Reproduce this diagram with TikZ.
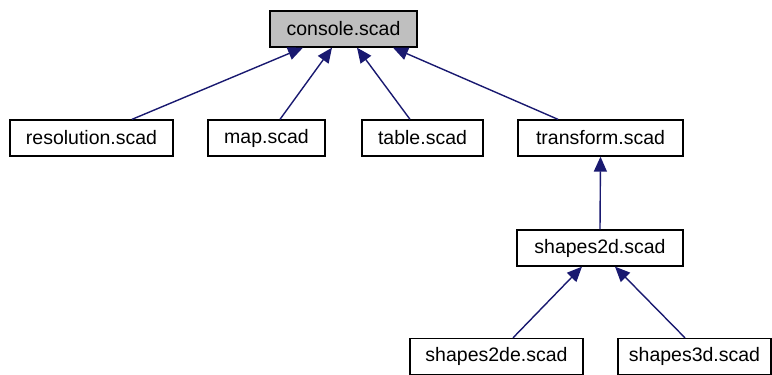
\documentclass[tikz,border=0pt]{standalone}
\usepackage{fontspec}
\setmainfont{Liberation Sans}
\usetikzlibrary{arrows.meta}
\definecolor{edgeblue}{HTML}{191970}
\tikzset{
    file/.style={draw=black, line width=1.3pt, fill=white, minimum height=36pt,
                 inner sep=0pt, font=\fontsize{19.5}{22}\selectfont},
    edge/.style={draw=edgeblue, line width=1.4pt, -{Triangle[length=15pt,width=13pt]}},
}

\begin{document}
\begin{tikzpicture}[x=1pt, y=-1pt]
    \useasboundingbox (0,0) rectangle (772,375);

    % Files
    \node[file, fill=gray!50, minimum width=147pt] (console) at (343.5,29) {console.scad};
    \node[file, minimum width=163pt] (resolution) at (91.5,138) {resolution.scad};
    \node[file, minimum width=117pt] (map) at (266.5,138) {map.scad};
    \node[file, minimum width=121pt] (table) at (422.5,138) {table.scad};
    \node[file, minimum width=165pt] (transform) at (600.5,138) {transform.scad};
    \node[file, minimum width=166pt] (shapes2d) at (600,248) {shapes2d.scad};
    \node[file, minimum width=173pt] (shapes2de) at (496.5,356.5) {shapes2de.scad};
    \node[file, minimum width=153pt] (shapes3d) at (694.5,356.5) {shapes3d.scad};

    % Include edges
    \draw[edge] ([xshift=40.5pt]resolution.north) -- ([xshift=-40.5pt]console.south);
    \draw[edge] ([xshift=13.5pt]map.north) -- ([xshift=-11.5pt]console.south);
    \draw[edge] ([xshift=-12.5pt]table.north) -- ([xshift=13.5pt]console.south);
    \draw[edge] ([xshift=-42.5pt]transform.north) -- ([xshift=49.5pt]console.south);
    \draw[edge] (shapes2d.north) -- (transform.south);
    \draw[edge] ([xshift=16.5pt]shapes2de.north) -- ([xshift=-18pt]shapes2d.south);
    \draw[edge] ([xshift=-9.5pt]shapes3d.north) -- ([xshift=15pt]shapes2d.south);

\end{tikzpicture}
\end{document}
